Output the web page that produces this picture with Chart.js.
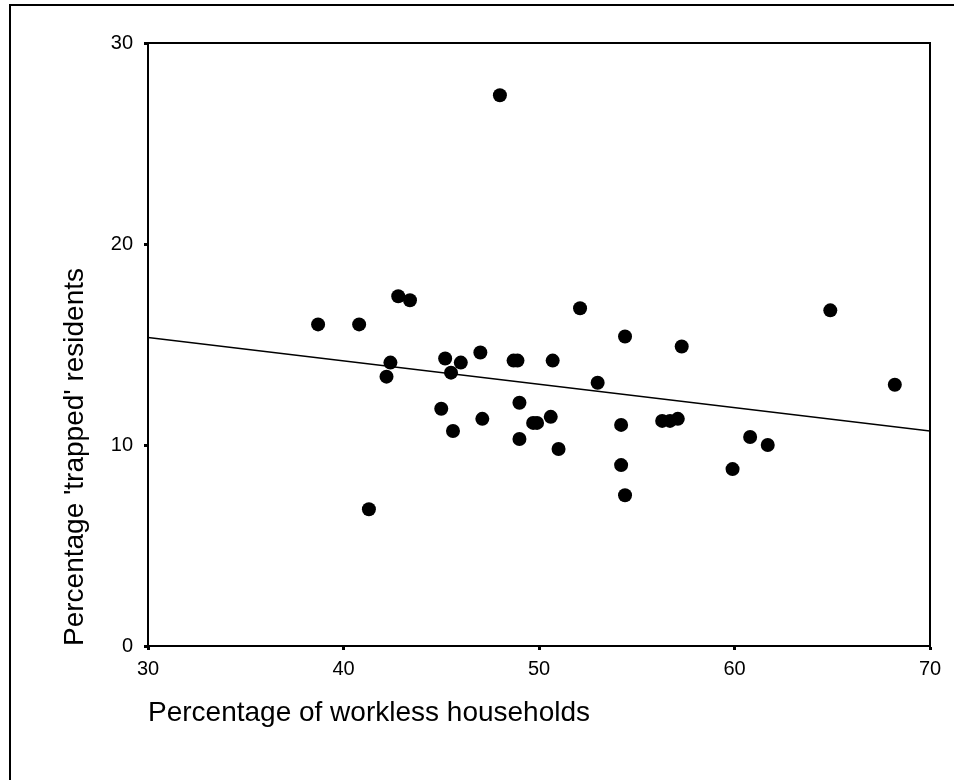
<!DOCTYPE html>
<html>
<head>
<meta charset="utf-8">
<script src="https://cdn.jsdelivr.net/npm/chart.js@4"></script>
<style>
  html, body { margin: 0; padding: 0; background: #fff; }
  #frame { position: absolute; left: 9px; top: 4px; width: 960px; height: 800px;
           border-left: 2px solid #000; border-top: 2px solid #000; }
  #wrap { position: absolute; left: 0; top: 0; width: 954px; height: 780px; }
</style>
</head>
<body>
<div id="frame"></div>
<div id="wrap"><canvas id="scatter"></canvas></div>
<script>
// valores
const workless = [38.7, 40.8, 42.8, 43.4, 42.2, 42.4, 41.3, 45.2, 45.5, 46.0,
  47.0, 45.0, 45.6, 47.1, 48.7, 48.9, 49.0, 49.0, 49.7, 49.9,
  50.6, 50.7, 51.0, 52.1, 53.0, 54.4, 54.2, 54.2, 54.4, 57.3,
  56.3, 56.7, 57.1, 59.9, 60.8, 61.7, 64.9, 68.2, 48.0];
const trapped = [16.0, 16.0, 17.4, 17.2, 13.4, 14.1, 6.8, 14.3, 13.6, 14.1,
  14.6, 11.8, 10.7, 11.3, 14.2, 14.2, 12.1, 10.3, 11.1, 11.1,
  11.4, 14.2, 9.8, 16.8, 13.1, 15.4, 11.0, 9.0, 7.5, 14.9,
  11.2, 11.2, 11.3, 8.8, 10.4, 10.0, 16.7, 13.0, 27.4];
// recta de ajuste (extremos)
const fitX = [30, 70];
const fitY = [15.35, 10.7];
const xTicks = [30, 40, 50, 60, 70];
const yTicks = [0, 10, 20, 30];

const $scatter = document.querySelector("#scatter");
const fuente = "'Liberation Sans', Arial, sans-serif";

const data = {
  datasets: [{
    type: 'scatter',
    data: workless.map((x, i) => ({ x, y: trapped[i] })),
    backgroundColor: '#000',
    borderColor: '#000',
    pointRadius: 7,
    pointBorderWidth: 0
  }, {
    type: 'line',
    data: fitX.map((x, i) => ({ x, y: fitY[i] })),
    borderColor: '#000',
    borderWidth: 1.5,
    pointRadius: 0,
    fill: false
  }]
};

// marco del area del grafico
const marco = {
  id: 'marco',
  beforeDatasetsDraw(chart) {
    const { ctx, chartArea: a } = chart;
    ctx.save();
    ctx.strokeStyle = '#000';
    ctx.lineWidth = 2;
    ctx.strokeRect(a.left, a.top, a.right - a.left, a.bottom - a.top);
    ctx.restore();
  }
};

new Chart($scatter, {
  data,
  plugins: [marco],
  options: {
    responsive: true,
    maintainAspectRatio: false,
    animation: false,
    events: [],
    layout: { padding: { left: 0, right: 24, top: 43, bottom: 0 } },
    plugins: { legend: { display: false }, tooltip: { enabled: false } },
    scales: {
      x: {
        type: 'linear',
        min: 30, max: 70,
        afterFit: s => { s.height = 134; },
        afterBuildTicks: s => { s.ticks = xTicks.map(v => ({ value: v })); },
        grid: { drawOnChartArea: false, tickLength: 4, tickWidth: 3, tickColor: '#000' },
        border: { color: '#000', width: 2 },
        ticks: { color: '#000', padding: 7, font: { family: fuente, size: 20 } },
        title: {
          display: true, align: 'start',
          text: 'Percentage of workless households',
          color: '#000', font: { family: fuente, size: 28 },
          padding: { top: 0, bottom: 50 }
        }
      },
      y: {
        type: 'linear',
        min: 0, max: 30,
        afterFit: s => { s.width = 148; },
        afterBuildTicks: s => { s.ticks = yTicks.map(v => ({ value: v })); },
        grid: { drawOnChartArea: false, tickLength: 4, tickWidth: 3, tickColor: '#000' },
        border: { color: '#000', width: 2 },
        ticks: { color: '#000', padding: 11, font: { family: fuente, size: 20 } },
        title: {
          display: true, align: 'start',
          text: "Percentage 'trapped' residents",
          color: '#000', font: { family: fuente, size: 28 },
          padding: { top: 58, bottom: 0 }
        }
      }
    }
  }
});
</script>
</body>
</html>
